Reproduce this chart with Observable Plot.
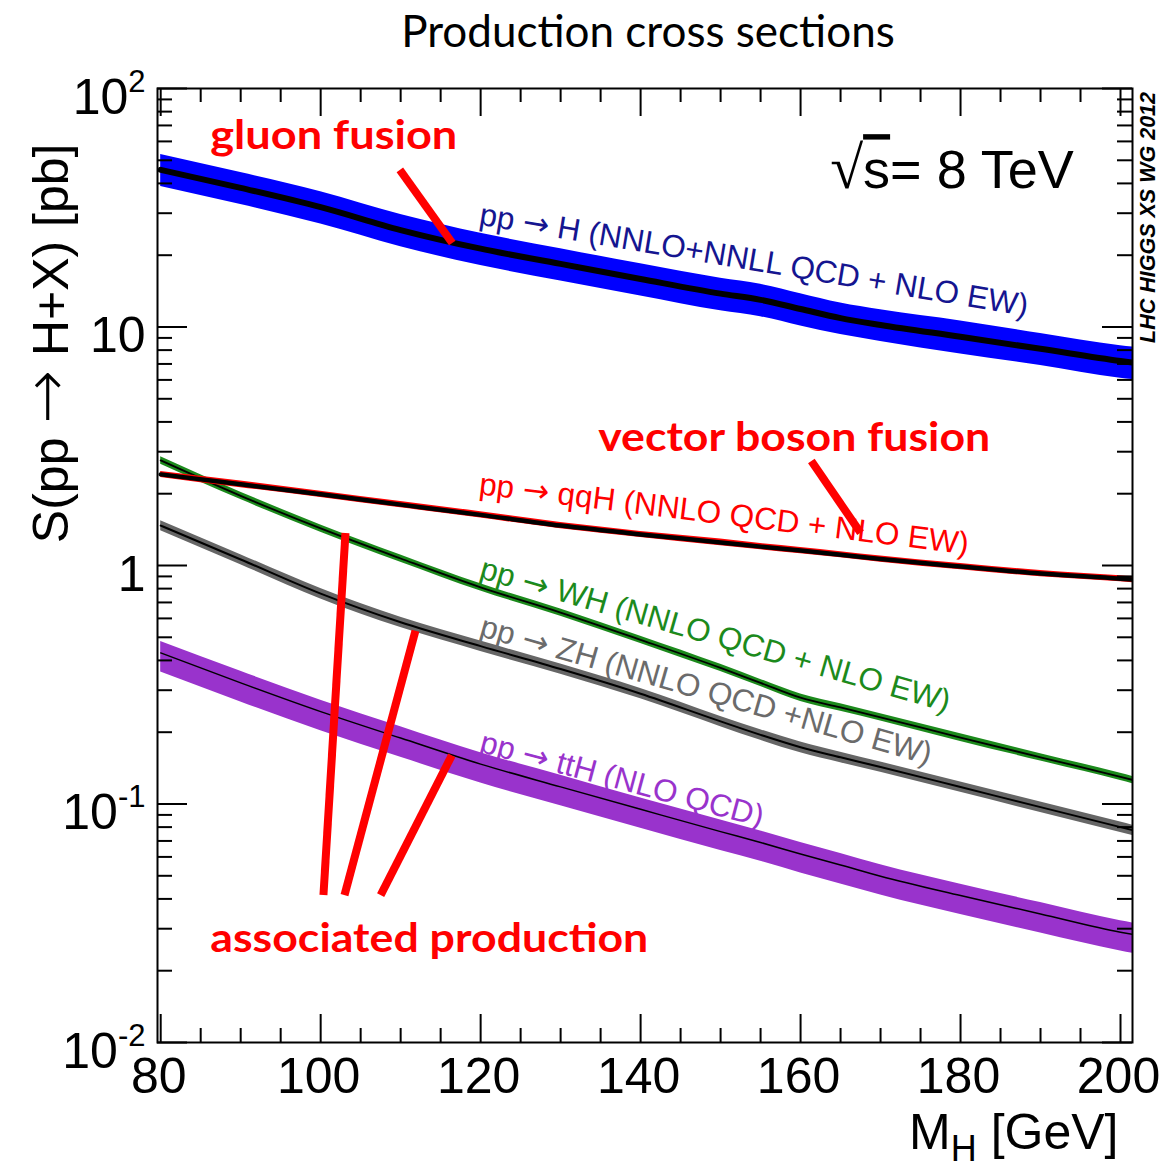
<!DOCTYPE html>
<html><head><meta charset="utf-8">
<script src="https://cdn.jsdelivr.net/npm/d3@7"></script>
<script src="https://cdn.jsdelivr.net/npm/@observablehq/plot@0.6"></script>
<style>
body{margin:0;background:#fff;}
#title{height:60px;width:1173px;box-sizing:border-box;padding-left:123px;text-align:center;font:44px/60px Lato, sans-serif;color:#000;}
#chart svg{overflow:visible;}
</style></head><body>
<div id="title">Production cross sections</div>
<div id="chart"></div>
<script>
// ---------------- data ----------------
const masses = [80, 90, 100, 110, 120, 130, 140, 150, 155, 160, 165, 170, 180, 190, 200, 202];
const ggH    = [45.6, 38.3, 31.8, 25.5, 21.3, 18.4, 15.9, 13.8, 13.0, 11.9, 10.9, 10.2, 9.1, 8.1, 7.2, 7.05];
const ggH_hi = [52.9, 44.4, 36.9, 29.6, 24.7, 21.3, 18.4, 16.0, 15.1, 13.8, 12.6, 11.8, 10.6, 9.4, 8.35, 8.2];
const ggH_lo = [38.8, 32.6, 27.0, 21.7, 18.1, 15.6, 13.5, 11.7, 11.05, 10.1, 9.3, 8.7, 7.7, 6.9, 6.1, 6.0];
const qqH    = [2.41, 2.19, 1.99, 1.80, 1.63, 1.47, 1.35, 1.25, 1.20, 1.155, 1.11, 1.065, 0.99, 0.925, 0.88, 0.87];
const qqH_hi = [2.48, 2.26, 2.05, 1.855, 1.68, 1.514, 1.39, 1.29, 1.236, 1.19, 1.143, 1.097, 1.02, 0.953, 0.906, 0.896];
const qqH_lo = [2.34, 2.12, 1.93, 1.746, 1.58, 1.426, 1.31, 1.21, 1.164, 1.12, 1.077, 1.033, 0.96, 0.897, 0.854, 0.844];
const WH     = [2.76, 1.96, 1.43, 1.07, 0.81, 0.635, 0.488, 0.372, 0.322, 0.279, 0.254, 0.231, 0.19, 0.157, 0.130, 0.125];
const WH_hi  = [2.86, 2.03, 1.48, 1.107, 0.838, 0.657, 0.505, 0.385, 0.333, 0.289, 0.263, 0.239, 0.197, 0.1625, 0.1345, 0.129];
const WH_lo  = [2.66, 1.89, 1.38, 1.033, 0.782, 0.613, 0.471, 0.359, 0.311, 0.269, 0.245, 0.223, 0.183, 0.1515, 0.1255, 0.1205];
const ZH     = [1.47, 1.06, 0.762, 0.578, 0.459, 0.368, 0.29, 0.222, 0.195, 0.173, 0.157, 0.143, 0.1178, 0.097, 0.080, 0.0769];
const ZH_hi  = [1.54, 1.11, 0.80, 0.607, 0.482, 0.386, 0.305, 0.233, 0.205, 0.182, 0.165, 0.150, 0.1237, 0.1019, 0.084, 0.0807];
const ZH_lo  = [1.40, 1.007, 0.724, 0.549, 0.436, 0.350, 0.276, 0.211, 0.185, 0.164, 0.149, 0.136, 0.1119, 0.0922, 0.076, 0.0731];
const ttH    = [0.43, 0.322, 0.244, 0.189, 0.147, 0.118, 0.095, 0.0766, 0.069, 0.0617, 0.0555, 0.0498, 0.0413, 0.0346, 0.029, 0.0282];
const ttH_hi = [0.48, 0.36, 0.2725, 0.211, 0.164, 0.132, 0.106, 0.0856, 0.077, 0.0689, 0.062, 0.0556, 0.0461, 0.0386, 0.0324, 0.0315];
const ttH_lo = [0.358, 0.268, 0.203, 0.157, 0.1225, 0.0983, 0.0791, 0.0638, 0.0575, 0.0514, 0.0462, 0.0415, 0.0344, 0.0288, 0.0242, 0.0235];

// process labels (anchored in data units)
const labelText  = ["pp \u2192 H (NNLO+NNLL QCD + NLO EW)", "pp \u2192 qqH (NNLO QCD + NLO EW)", "pp \u2192 WH (NNLO QCD + NLO EW)", "pp \u2192 ZH (NNLO QCD +NLO EW)", "pp \u2192 ttH (NLO QCD)"];
const labelMass  = [119.7, 119.7, 119.7, 119.7, 119.7];
const labelSigma = [26.9, 1.99, 0.888, 0.508, 0.166];
const labelAngle = [9.5, 7, 16, 16, 15];

// red annotations
const annText  = ["gluon fusion", "vector boson fusion", "associated production"];
const annMass  = [86.2, 134.7, 86.2];
const annSigma = [55.9, 3.02, 0.0240];
const ptrMass1  = [109.9, 161.35, 100.35, 102.98, 107.5];
const ptrSigma1 = [45.6, 2.742, 0.0415, 0.0415, 0.0415];
const ptrMass2  = [116.45, 167.5, 103.1, 111.85, 116.4];
const ptrSigma2 = [22.5, 1.371, 1.370, 0.533, 0.160];

// axes
const xMajor = [80, 100, 120, 140, 160, 180, 200];
const xMinor = [85, 90, 95, 105, 110, 115, 125, 130, 135, 145, 150, 155, 165, 170, 175, 185, 190, 195];
const yMajor = [0.01, 0.1, 1, 10, 100];
const yMajorLabels = ["10^-2", "10^-1", "1", "10", "10^2"];
const yMinor = [0.02, 0.03, 0.04, 0.05, 0.06, 0.07, 0.08, 0.09, 0.2, 0.3, 0.4, 0.5, 0.6, 0.7, 0.8, 0.9,
                2, 3, 4, 5, 6, 7, 8, 9, 20, 30, 40, 50, 60, 70, 80, 90];
const energyLabel = "\u221As= 8 TeV";
const energyMass = 163.7, energySigma = 38.2;
const creditLabel = "LHC HIGGS XS WG 2012";
const creditSigma = 28.8;
const xTitle = "M_H [GeV]";
const yTitle = "S(pp \u2192 H+X) [pb]";

// ---------------- styling ----------------
const W = 1173, H = 1107, mL = 157, mR = 41, mT = 28, mB = 125;
const plotW = W - mL - mR, plotH = H - mT - mB;
const labelColor = ["#151590", "#ff0000", "#1c8a1c", "#6b6b6b", "#9933cc"];
const procStyle = [
  {key: "ggH", fill: "#0000ff", lw: 6},
  {key: "ttH", fill: "#9933cc", lw: 1.5},
  {key: "ZH", fill: "#666666", lw: 2},
  {key: "WH", fill: "#1c8a1c", lw: 1.8},
  {key: "qqH", fill: "#ff0000", lw: 4.5}
];
const annTextLength = {"gluon fusion": 247, "vector boson fusion": 392, "associated production": 438};

const series = {ggH, ggH_hi, ggH_lo, qqH, qqH_hi, qqH_lo, WH, WH_hi, WH_lo, ZH, ZH_hi, ZH_lo, ttH, ttH_hi, ttH_lo};
const rows = masses.map((m, i) => {
  const r = {m};
  for (const k in series) r[k] = series[k][i];
  return r;
});

const marks = [];
for (const p of procStyle) {
  marks.push(Plot.areaY(rows, {x: "m", y1: p.key + "_lo", y2: p.key + "_hi", fill: p.fill, curve: "monotone-x", clip: true}));
  marks.push(Plot.line(rows, {x: "m", y: p.key, stroke: "black", strokeWidth: p.lw, curve: "monotone-x", clip: true}));
}
const li = labelText.map((_, i) => i);
marks.push(Plot.text(li, {x: i => labelMass[i], y: i => labelSigma[i], text: i => labelText[i], rotate: i => labelAngle[i],
  fill: i => labelColor[i], textAnchor: "start", lineAnchor: "bottom", fontSize: 31.5}));

// frame and ticks
const tickStyle = {stroke: "black", strokeWidth: 2};
marks.push(
  Plot.frame({stroke: "black", strokeWidth: 2}),
  Plot.tickX(xMajor, {x: d => d, insetTop: plotH - 28, ...tickStyle}),
  Plot.tickX(xMinor, {x: d => d, insetTop: plotH - 14, ...tickStyle}),
  Plot.tickX(xMajor, {x: d => d, insetBottom: plotH - 28, ...tickStyle}),
  Plot.tickX(xMinor, {x: d => d, insetBottom: plotH - 14, ...tickStyle}),
  Plot.tickY(yMajor, {y: d => d, insetRight: plotW - 30, ...tickStyle}),
  Plot.tickY(yMinor, {y: d => d, insetRight: plotW - 15, ...tickStyle}),
  Plot.tickY(yMajor, {y: d => d, insetLeft: plotW - 30, ...tickStyle}),
  Plot.tickY(yMinor, {y: d => d, insetLeft: plotW - 15, ...tickStyle}),
  Plot.text(xMajor, {x: d => d, text: d => String(d), frameAnchor: "bottom", lineAnchor: "top", dy: 14.5, dx: -2, fontSize: 50}),
  Plot.text(yMajor, {y: d => d, text: (d, i) => yMajorLabels[i], frameAnchor: "left", textAnchor: "end", dx: -12, dy: 9, fontSize: 50}),
  Plot.text([xTitle], {frameAnchor: "bottom-right", textAnchor: "end", lineAnchor: "bottom", dx: -14, dy: 106, fontSize: 50}),
  Plot.text([yTitle], {frameAnchor: "top-left", textAnchor: "end", lineAnchor: "bottom", rotate: -90, dx: -90, dy: 55, fontSize: 50}),
  Plot.text([energyLabel], {x: energyMass, y: energySigma, textAnchor: "start", lineAnchor: "bottom", fontSize: 54}),
  Plot.text([creditLabel], {y: creditSigma, frameAnchor: "right", rotate: -90, textAnchor: "middle", lineAnchor: "middle", dx: 16, fontSize: 21.5, fontWeight: "bold", fontStyle: "italic"})
);

// red annotations
const pi = ptrMass1.map((_, i) => i);
marks.push(
  Plot.link(pi, {x1: i => ptrMass1[i], y1: i => ptrSigma1[i], x2: i => ptrMass2[i], y2: i => ptrSigma2[i], stroke: "#ff0000", strokeWidth: 8}),
  Plot.text(annText, {x: (d, i) => annMass[i], y: (d, i) => annSigma[i], text: d => d, textAnchor: "start", lineAnchor: "bottom",
    fill: "#ff0000", fontSize: 40, fontWeight: "bold", fontFamily: "Lato, sans-serif"})
);

const chart = Plot.plot({
  width: W, height: H, marginLeft: mL, marginRight: mR, marginTop: mT, marginBottom: mB,
  x: {domain: [79.6, 201.5], axis: null},
  y: {type: "log", domain: [0.01, 100], axis: null},
  color: {type: "identity"},
  style: {fontFamily: "'Liberation Sans', Arial, sans-serif", background: "white", color: "black"},
  marks
});
document.getElementById("chart").appendChild(chart);

// ---- text post-processing: superscripts, subscripts, arrows, overline, lengths ----
const NS = "http://www.w3.org/2000/svg";
function tspan(parent, txt, attrs) {
  const t = document.createElementNS(NS, "tspan");
  t.textContent = txt;
  for (const k in attrs) t.setAttribute(k, attrs[k]);
  parent.appendChild(t);
  return t;
}
chart.querySelectorAll("text").forEach(t => {
  const s = t.textContent;
  if (/^10\^/.test(s)) {
    const [base, exp] = s.split("^");
    t.textContent = base;
    tspan(t, exp, {"font-size": 31, dy: -22});
  } else if (s === xTitle) {
    t.textContent = "M";
    tspan(t, "H", {"font-size": 36, dy: 12});
    tspan(t, " [GeV]", {dy: -12});
  } else if (s === energyLabel) {
    t.textContent = "";
    tspan(t, "\u221A", {"font-size": 60, "font-family": "DejaVu Sans", "font-weight": 200});
    tspan(t, "s", {style: "text-decoration: overline; text-decoration-thickness: 2px"});
    tspan(t, "= 8 TeV", {});
  } else if (annTextLength[s]) {
    t.setAttribute("textLength", annTextLength[s]);
    t.setAttribute("lengthAdjust", "spacingAndGlyphs");
  } else if (s.includes("\u2192")) {
    const big = s === yTitle;
    const parts = s.split("\u2192");
    t.textContent = "";
    parts.forEach((p, i) => {
      if (i > 0) tspan(t, "\u2192", big ? {"font-family": "DejaVu Sans", "font-size": 64, "font-weight": 200} : {"font-family": "DejaVu Sans"});
      t.appendChild(document.createTextNode(p));
    });
  }
});
</script></body></html>
